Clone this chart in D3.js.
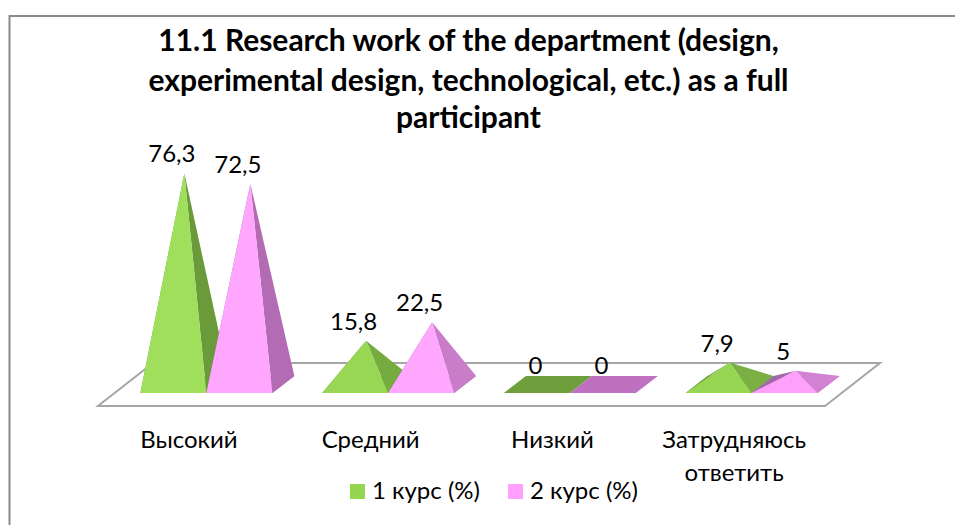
<!DOCTYPE html>
<html><head><meta charset="utf-8">
<script src="https://cdn.jsdelivr.net/npm/d3@7"></script>
<style>html,body{margin:0;padding:0;background:#fff}svg{display:block}text{font-family:"Lato","Open Sans",sans-serif;fill:#000}</style>
</head><body><svg id="c" width="955" height="525"></svg>
<script>
const titleLines = ["11.1 Research work of the department (design,","experimental design, technological, etc.) as a full","participant"];
const categories = ["Высокий","Средний","Низкий","Затрудняюсь ответить"];
const seriesNames = ["1 курс (%)","2 курс (%)"];
const course1 = [76.3,15.8,0,7.9];
const course2 = [72.5,22.5,0,5];
const valueLabels1 = ["76,3","15,8","0","7,9"];
const valueLabels2 = ["72,5","22,5","0","5"];

const svg = d3.select("#c");
const W=955,H=525;
const floorY=406, backY=363, floorL=98, floorR=825, floorDX=55;
const baseY=393, depthX=22, depthY=17, depthShift=17.5, barW=66;

svg.append("rect").attr("x",9.5).attr("y",16).attr("width",W+10).attr("height",H+10)
  .attr("fill","#fff").attr("stroke","#8a8a8a").attr("stroke-width",2);

const x = d3.scaleBand().domain(categories).range([floorL,floorR]);
const y = d3.scaleLinear().domain([0,80]).range([baseY-depthY/2,baseY-depthY/2-221.6]);

// floor
svg.append("path").attr("fill","#fff").attr("stroke","#a6a6a6").attr("stroke-width",2)
  .attr("d",d3.line()([[floorL,floorY],[floorR,floorY],[floorR+floorDX,backY],[floorL+floorDX,backY]])+"Z");

const palettes = [
 {front:d3.scaleLinear().domain([0,80]).range(["#95d552","#a0e05c"]),
  right:d3.scaleLinear().domain([0,16,80]).range(["#7fb346","#76ab40","#69993a"]),
  left:"#6f9e3c", base:"#6f9e3c"},
 {front:d3.scaleLinear().domain([0,8]).range(["#ff99f5","#ffa6ff"]).clamp(true),
  right:d3.scaleLinear().domain([0,25,80]).range(["#d584d6","#c87cc8","#b068b0"]),
  left:"#a06aa8", base:"#c070c0"}
];
const line = d3.line();
const series=[course1,course2], labels=[valueLabels1,valueLabels2];

categories.forEach((cat,ci)=>{
  const start = x(cat)+x.bandwidth()/2-barW+depthShift;
  series.forEach((vals,si)=>{
    const v=vals[ci], p=palettes[si], xl=start+si*barW, xr=xl+barW;
    const apex=[xl+barW/2+depthX/2, y(v)];
    const g=svg.append("g");
    const fl=[xl,baseY], fr=[xr,baseY], br=[xr+depthX,baseY-depthY], bl=[xl+depthX,baseY-depthY];
    g.append("path").attr("fill",p.base).attr("d",line([fl,fr,br,bl])+"Z");
    if(v>0){
      g.append("path").attr("fill",p.left).attr("d",line([fl,bl,apex])+"Z");
      g.append("path").attr("fill",p.right(v)).attr("d",line([fr,br,apex])+"Z");
      g.append("path").attr("fill",p.front(v)).attr("d",line([fl,fr,apex])+"Z");
    }
  });
  series.forEach((vals,si)=>{
    const v=vals[ci];
    svg.append("text").attr("x",start+si*barW+barW/2-1.5).attr("y",y(v)-11)
      .attr("text-anchor","middle").attr("font-size",24).text(labels[si][ci]);
  });
});

// category axis
const axis = svg.append("g").attr("transform",`translate(0,${floorY})`).call(d3.axisBottom(x).tickSize(0));
axis.select(".domain").remove();
axis.selectAll("text").each(function(d){
  const t=d3.select(this).text(null).attr("y",42).attr("dy",0).attr("font-size",24)
    .style("font-family",'"Lato","Open Sans",sans-serif');
  d.split(" ").forEach((w,i)=>t.append("tspan").attr("x",0).attr("dy",i?33:0).text(w));
});

// title
svg.append("g").selectAll("text").data(titleLines).join("text")
  .attr("x",468.5).attr("y",(d,i)=>[51,91,128][i]).attr("text-anchor","middle")
  .attr("font-size",30).attr("font-weight",700).text(d=>d);

// legend
const legendX=[350,508], legendColors=["#96d550","#ffa0ff"];
seriesNames.forEach((n,i)=>{
  svg.append("rect").attr("x",legendX[i]).attr("y",484).attr("width",15).attr("height",15).attr("fill",legendColors[i]);
  svg.append("text").attr("x",legendX[i]+22).attr("y",499).attr("font-size",24).text(n);
});
</script></body></html>
